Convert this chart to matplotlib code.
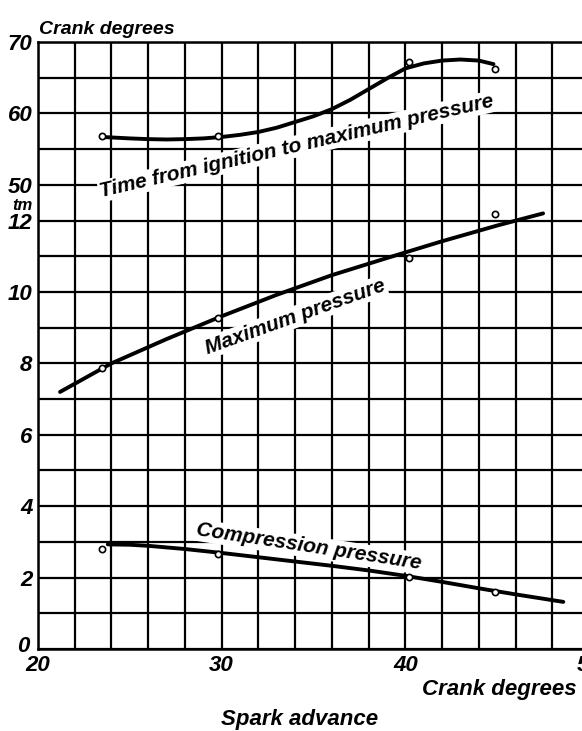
import matplotlib.pyplot as plt
import matplotlib.transforms as mtransforms
import numpy as np

# Spark advance (crank degrees) for the measured points
avanco_pontos = [23.5, 29.8, 40.2, 44.9]

# Time from ignition to maximum pressure, crank degrees
tempo_pontos = [56.8, 56.8, 67.2, 66.2]
tempo_curva_x = [23.5, 25, 26, 27, 28, 29, 30, 31, 32, 33, 34, 35, 36, 37, 38,
                 39, 40, 41, 42, 43, 44, 44.8]
tempo_curva_y = [56.7, 56.5, 56.4, 56.35, 56.4, 56.5, 56.7, 57.0, 57.4, 58.0,
                 58.8, 59.6, 60.6, 61.9, 63.4, 64.9, 66.3, 67.0, 67.4, 67.55,
                 67.4, 66.9]

# Maximum pressure, atm
pmax_pontos = [7.87, 9.27, 10.95, 12.18]
pmax_curva_x = [21.2, 24, 27, 30, 33, 36, 39, 42, 45, 47.5]
pmax_curva_y = [7.2, 8.0, 8.68, 9.32, 9.92, 10.47, 10.95, 11.42, 11.86, 12.2]

# Compression pressure, atm
pcomp_pontos = [2.8, 2.66, 2.02, 1.6]
pcomp_curva_x = [23.8, 25, 26, 28, 30, 32, 34, 36, 38, 40, 42, 44, 46, 48.6]
pcomp_curva_y = [2.93, 2.92, 2.89, 2.8, 2.69, 2.57, 2.45, 2.33, 2.2, 2.05,
                 1.88, 1.7, 1.53, 1.32]

ticks_x = [20, 30, 40, 50]
ticks_p = [0, 2, 4, 6, 8, 10, 12]
ticks_graus = [50, 60, 70]

FONTE = ['Liberation Sans', 'DejaVu Sans']
num = dict(family=FONTE, style='italic', weight='bold', size=16)
rot = dict(family=FONTE, style='italic', weight='bold', size=15)

W, H = 582, 731
fig = plt.figure(figsize=(W / 100, H / 100), dpi=100)
ax = fig.add_axes([38 / W, 82 / H, (589 - 38) / W, 607 / H])

ax.set_xlim(20, 50)
ax.set_ylim(0, 17)
ax.set_xticks(ticks_x)
ax.set_xticklabels([str(t) for t in ticks_x], fontdict=num)
ax.set_xticks(np.arange(20, 51, 2), minor=True)
ax.set_yticks(ticks_p)
ax.set_yticklabels([str(t) for t in ticks_p], fontdict=num)
ax.set_yticks(np.arange(0, 18, 1), minor=True)
ax.grid(True, which='both', color='black', lw=1.6)
ax.tick_params(which='both', length=0, pad=4)
for s in ax.spines.values():
    s.set_linewidth(1.8)

# o "0" fica um pouco acima e à esquerda, longe do "20"
zero = ax.get_yticklabels()[0]
zero.set_transform(zero.get_transform() + mtransforms.ScaledTranslation(
    -3 / 100, 5 / 100, fig.dpi_scale_trans))

# escala de graus (parte de cima), alinhada com a grade: 50 graus = 13 atm
ax2 = ax.twinx()
ax2.set_ylim(50 - 13 * 5, 70)
ax2.yaxis.tick_left()
ax2.set_yticks(ticks_graus)
ax2.set_yticklabels([str(t) for t in ticks_graus], fontdict=num)
ax2.tick_params(length=0, pad=4)
for s in ax2.spines.values():
    s.set_visible(False)

ax2.plot(tempo_curva_x, tempo_curva_y, color='black', lw=2.8, zorder=4,
         solid_capstyle='round')
ax2.plot(avanco_pontos, tempo_pontos, 'o', ms=4.5, mfc='white', mec='black',
         mew=1.2, zorder=5)

ax.plot(pmax_curva_x, pmax_curva_y, color='black', lw=2.8, zorder=4,
        solid_capstyle='round')
ax.plot(avanco_pontos, pmax_pontos, 'o', ms=4.5, mfc='white', mec='black',
        mew=1.2, zorder=5)

ax.plot(pcomp_curva_x, pcomp_curva_y, color='black', lw=2.8, zorder=4,
        solid_capstyle='round')
ax.plot(avanco_pontos, pcomp_pontos, 'o', ms=4.5, mfc='white', mec='black',
        mew=1.2, zorder=5)

fundo = dict(facecolor='white', edgecolor='none', pad=1)
ax2.text(34.1, 55.4, 'Time from ignition to maximum pressure', rotation=13,
         rotation_mode='anchor', ha='center', va='center', bbox=fundo,
         zorder=3, **rot)
ax.text(34.0, 9.3, 'Maximum pressure', rotation=19.7, rotation_mode='anchor',
        ha='center', va='center', bbox=fundo, zorder=3, **rot)
ax.text(34.75, 2.86, 'Compression pressure', rotation=-8.6,
        rotation_mode='anchor', ha='center', va='center', bbox=fundo,
        zorder=3, **rot)

fig.text(39 / W, 1 - 29 / H, 'Crank degrees', ha='left', va='center',
         family=FONTE, style='italic', weight='bold', size=14)
fig.text(22 / W, 1 - 205 / H, 'tm', ha='center', va='center',
         family=FONTE, style='italic', weight='bold', size=12)
fig.text(577 / W, 1 - 690 / H, 'Crank degrees', ha='right', va='center',
         family=FONTE, style='italic', weight='bold', size=16)
fig.text(300 / W, 1 - 719 / H, 'Spark advance', ha='center', va='center',
         family=FONTE, style='italic', weight='bold', size=16)

fig.savefig('out.png', dpi=100)
